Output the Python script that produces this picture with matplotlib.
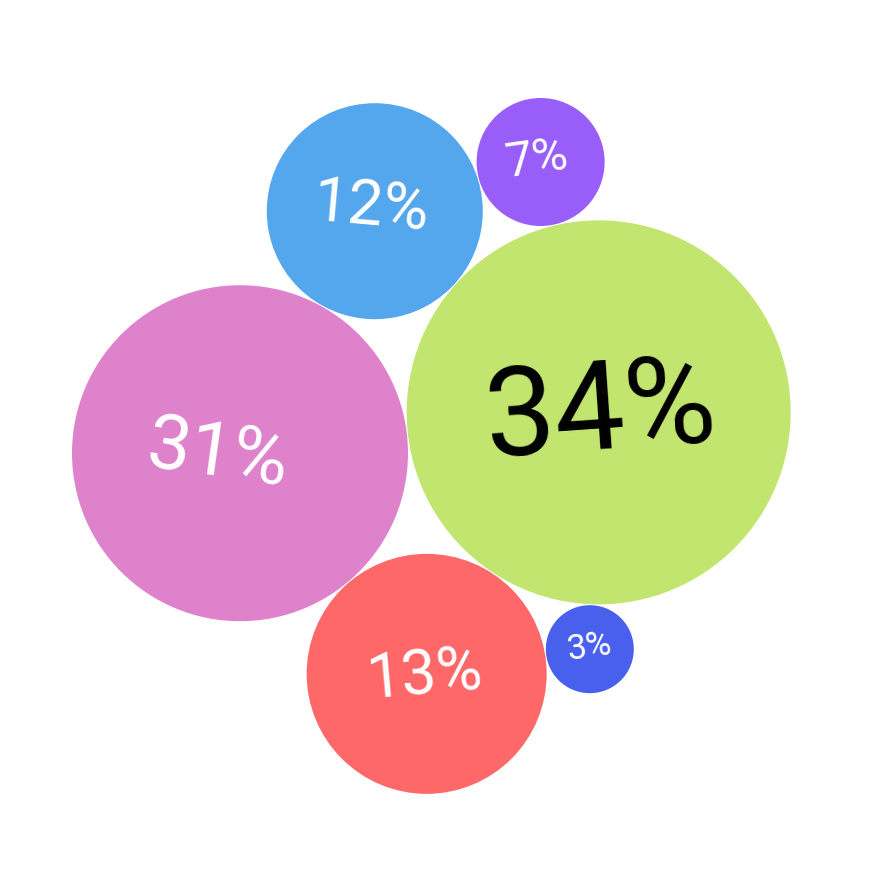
import numpy as np
import matplotlib
matplotlib.use("Agg")
import matplotlib.pyplot as plt
from matplotlib.patches import Circle

# ---- data ----
labels = ["34%", "31%", "12%", "7%", "13%", "3%"]
values = [34, 31, 12, 7, 13, 3]

# ---- layout / style ----
radii = [192, 168, 108, 64, 120, 44]          # bubble radius (px units)
colors = ["#C1E56E", "#DE82CC", "#54A6ED", "#995EFA", "#FF6868", "#4860EC"]
text_colors = ["black", "white", "white", "white", "white", "white"]
font_sizes = [90, 55, 45, 35, 45, 25]
rotations = [4, -8, -5, 8, 5, 8]
label_dx = [2, -22, -4, -4, -2, -1]
label_dy = [3, 2, -3, -2, 3, -2]
gap = 1.0

# packing: each bubble tangent to earlier ones (index pairs, side)
first_angle = np.arctan2(41, -360)  # direction of bubble 1 from bubble 0 (image coords)
tangent_to = {2: (0, 1, 1), 3: (0, 2, 1), 4: (1, 0, 1), 5: (0, 4, -1)}


def tangent_point(p, rp, q, rq, r, side):
    d1 = rp + r + gap
    d2 = rq + r + gap
    v = q - p
    d = np.hypot(*v)
    a = (d1**2 - d2**2 + d**2) / (2 * d)
    h = np.sqrt(max(d1**2 - a**2, 0))
    base = p + a * v / d
    perp = np.array([-v[1], v[0]]) / d
    return base + side * h * perp


centers = [None] * len(radii)
centers[0] = np.array([0.0, 0.0])
dist = radii[0] + radii[1] + gap
centers[1] = centers[0] + dist * np.array([np.cos(first_angle), np.sin(first_angle)])
for i in range(2, len(radii)):
    a, b, s = tangent_to[i]
    centers[i] = tangent_point(centers[a], radii[a], centers[b], radii[b], radii[i], s)

centers = np.array(centers)
left = min(c[0] - r for c, r in zip(centers, radii))
top = min(c[1] - r for c, r in zip(centers, radii))

fig = plt.figure(figsize=(8.76, 8.76), dpi=100)
ax = fig.add_axes([0, 0, 1, 1])
ax.set_xlim(left - 72, left - 72 + 876)
ax.set_ylim(top - 98 + 876, top - 98)
ax.set_aspect("equal")
ax.axis("off")

for i, (c, r) in enumerate(zip(centers, radii)):
    ax.add_patch(Circle(c, r, facecolor=colors[i], edgecolor="none"))
    ax.text(c[0] + label_dx[i], c[1] + label_dy[i], labels[i], color=text_colors[i],
            fontsize=font_sizes[i], rotation=rotations[i], rotation_mode="anchor",
            ha="center", va="center", family=["Roboto", "DejaVu Sans"], fontweight="normal")

fig.savefig("out.png", dpi=100, facecolor="white")
